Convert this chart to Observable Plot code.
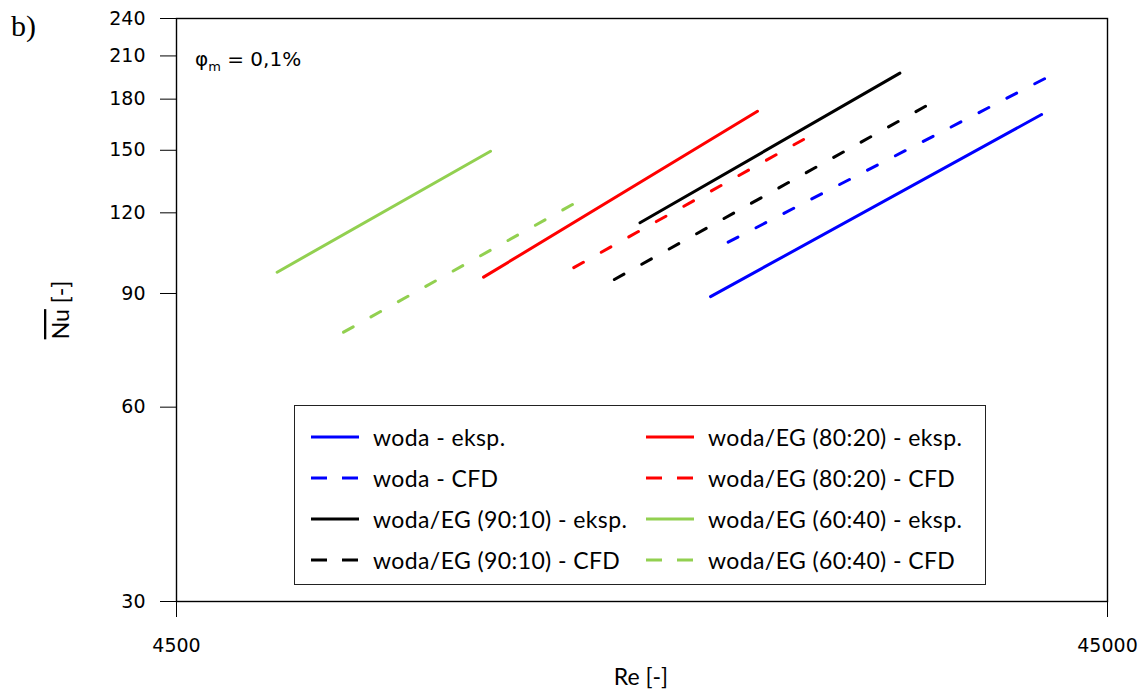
<!DOCTYPE html>
<html>
<head>
<meta charset="utf-8">
<script src="https://cdn.jsdelivr.net/npm/d3@7"></script>
<script src="https://cdn.jsdelivr.net/npm/@observablehq/plot@0.6"></script>
<style>
  html, body { margin: 0; padding: 0; background: #fff; }
  #wrap { position: relative; width: 1146px; height: 692px; }
  #legend { position: absolute; left: 294px; top: 405px; width: 692px; height: 180px;
            border: 1.5px solid #222; background: #fff; box-sizing: border-box;
            font-family: Lato, "Open Sans", sans-serif; font-size: 23px; letter-spacing: 0.4px; color: #000; }
  .item { position: absolute; display: flex; align-items: center; height: 30px; white-space: nowrap; }
  .item svg { margin-right: 13px; }
</style>
</head>
<body>
<div id="wrap"></div>
<script>
// Series names
const seriesNames = [
  "woda - eksp.", "woda - CFD",
  "woda/EG (90:10) - eksp.", "woda/EG (90:10) - CFD",
  "woda/EG (80:20) - eksp.", "woda/EG (80:20) - CFD",
  "woda/EG (60:40) - eksp.", "woda/EG (60:40) - CFD"
];
const seriesColors = ["#0000ff", "#0000ff", "#000000", "#000000", "#ff0000", "#ff0000", "#92d050", "#92d050"];
const seriesDashed = [false, true, false, true, false, true, false, true];

// Re and Nu values (start, end)
const reWodaExp   = [16860, 38230];  const nuWodaExp   = [89.0, 170.4];
const reWodaCfd   = [17610, 38510];  const nuWodaCfd   = [108.1, 193.6];
const re9010Exp   = [14160, 26930];  const nu9010Exp   = [115.8, 197.5];
const re9010Cfd   = [13290, 28690];  const nu9010Cfd   = [94.6, 175.5];
const re8020Exp   = [9617, 18935];   const nu8020Exp   = [95.4, 172.4];
const re8020Cfd   = [12020, 21220];  const nu8020Cfd   = [98.7, 155.9];
const re6040Exp   = [5772, 9784];    const nu6040Exp   = [97.1, 149.5];
const re6040Cfd   = [6802, 11980];   const nu6040Cfd   = [78.4, 123.6];

const reSeries = [reWodaExp, reWodaCfd, re9010Exp, re9010Cfd, re8020Exp, re8020Cfd, re6040Exp, re6040Cfd];
const nuSeries = [nuWodaExp, nuWodaCfd, nu9010Exp, nu9010Cfd, nu8020Exp, nu8020Cfd, nu6040Exp, nu6040Cfd];

const xTicks = [4500, 45000];
const yTicks = [30, 60, 90, 120, 150, 180, 210, 240];

// legend order (two columns)
const legendOrder = [[0, 4], [1, 5], [2, 6], [3, 7]];

const lineMarks = seriesNames.map((name, i) => {
  const rows = reSeries[i].map((re, j) => ({re, nu: nuSeries[i][j]}));
  return Plot.line(rows, {
    x: "re", y: "nu",
    stroke: seriesColors[i],
    strokeWidth: 3,
    strokeLinecap: "round",
    strokeDasharray: seriesDashed[i] ? "11,20" : undefined
  });
});

const chart = Plot.plot({
  width: 1146,
  height: 692,
  marginLeft: 176,
  marginRight: 39,
  marginTop: 18,
  marginBottom: 91,
  style: { fontFamily: "DejaVu Sans, Verdana, sans-serif", fontSize: "19px", color: "#000", background: "#fff" },
  x: { type: "log", domain: [4500, 45000] },
  y: { type: "log", domain: [30, 240] },
  marks: [
    Plot.axisX({ ticks: xTicks, tickFormat: d => String(d), tickSize: 16, tickPadding: 21, label: null, fontSize: 19 }),
    Plot.axisY({ ticks: yTicks, tickFormat: d => String(d), tickSize: 16, tickPadding: 15, label: null, fontSize: 19 }),
    ...lineMarks,
    Plot.frame({ stroke: "#000", strokeWidth: 1.4 })
  ]
});

document.getElementById("wrap").appendChild(chart);

// make dash patterns start and end with a dash (as in the original)
d3.select(chart).selectAll("[stroke-dasharray] path").each(function () {
  const L = this.getTotalLength();
  const d = 11, P = 31;
  const n = Math.max(1, Math.round((L - d) / P));
  const gap = (L - d) / n - d;
  this.setAttribute("stroke-dasharray", `${d},${gap.toFixed(2)}`);
});

// annotations
const svg = d3.select(chart);
svg.append("text").attr("x", 11).attr("y", 36).attr("text-anchor", "start")
  .style("font-family", "'Liberation Serif', 'Times New Roman', serif").style("font-size", "30px")
  .text("b)");

const phi = svg.append("text").attr("x", 195).attr("y", 66).attr("text-anchor", "start")
  .style("font-family", "DejaVu Sans, Verdana, sans-serif").style("font-size", "20px");
phi.append("tspan").text("φ");
phi.append("tspan").attr("dy", 5).style("font-size", "13px").text("m");
phi.append("tspan").attr("dy", -5).text(" = 0,1%");

svg.append("text").attr("x", 641).attr("y", 685).attr("text-anchor", "middle")
  .style("font-family", "Lato, 'Open Sans', sans-serif").style("font-size", "23px")
  .text("Re [-]");

const yl = svg.append("text").attr("transform", "translate(69,310) rotate(-90)").attr("text-anchor", "middle")
  .style("font-family", "Lato, 'Open Sans', sans-serif").style("font-size", "23px");
yl.append("tspan").style("text-decoration", "overline").text("Nu");
yl.append("tspan").text(" [-]");

// legend
const legend = document.createElement("div");
legend.id = "legend";
const rowTops = [16, 57, 98, 139];
const colLefts = [15, 350];
legendOrder.forEach((pair, r) => {
  pair.forEach((si, c) => {
    const item = document.createElement("div");
    item.className = "item";
    item.style.left = colLefts[c] + "px";
    item.style.top = rowTops[r] + "px";
    const dash = seriesDashed[si] ? 'stroke-dasharray="16,15"' : "";
    item.innerHTML = `<svg width="50" height="10"><line x1="1" y1="5" x2="49" y2="5" stroke="${seriesColors[si]}" stroke-width="3" ${dash}/></svg><span>${seriesNames[si]}</span>`;
    legend.appendChild(item);
  });
});
document.getElementById("wrap").appendChild(legend);
</script>
</body>
</html>
